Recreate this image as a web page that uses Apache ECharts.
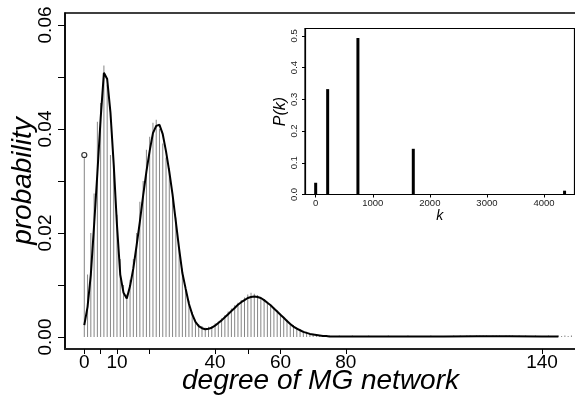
<!DOCTYPE html>
<html>
<head>
<meta charset="utf-8">
<script src="https://cdn.jsdelivr.net/npm/echarts@6/dist/echarts.min.js"></script>
<style>html,body{margin:0;padding:0;background:#fff}#c{width:575px;height:398px}</style>
</head>
<body>
<div id="c"></div>
<script>
// ---- main chart data ----
const barDegrees = [];
for (let d = 0; d <= 149; d++) barDegrees.push(d);
const barValues = [
  0.0350, 0.0120, 0.0200, 0.0276, 0.0414, 0.0450, 0.0522, 0.0485, 0.0350, 0.0330,
  0.0235, 0.0150, 0.0100, 0.0082, 0.0110, 0.0150, 0.0200, 0.0260, 0.0300, 0.0360,
  0.0385, 0.0412, 0.0418, 0.0400, 0.0372, 0.0345, 0.0325, 0.0265, 0.0230, 0.0170,
  0.0132, 0.0092, 0.0070, 0.0048, 0.0033, 0.0025, 0.0021, 0.0018, 0.0020, 0.0021,
  0.0026, 0.0030, 0.0036, 0.0042, 0.0049, 0.0055, 0.0061, 0.0066, 0.0071, 0.0076,
  0.0082, 0.0085, 0.0083, 0.0081, 0.0076, 0.0073, 0.0068, 0.0062, 0.0057, 0.0051,
  0.0045, 0.0039, 0.0033, 0.0027, 0.0023, 0.0019, 0.0015, 0.0012, 0.0010, 0.0008,
  0.0006, 0.0005, 0.0004, 0.0004, 0.0003, 0.0003, 0.0002, 0.0002, 0.0003, 0.0002,
  0.0002, 0.0002, 0.0003, 0.0002, 0.0002, 0.0002, 0.0002, 0.0003, 0.0002, 0.0002,
  0.0002, 0.0002, 0.0002, 0.0003, 0.0002, 0.0002, 0.0002, 0.0002, 0.0002, 0.0003,
  0.0002, 0.0002, 0.0002, 0.0002, 0.0002, 0.0002, 0.0003, 0.0002, 0.0002, 0.0002,
  0.0002, 0.0002, 0.0002, 0.0003, 0.0002, 0.0003, 0.0002, 0.0003, 0.0003, 0.0002,
  0.0003, 0.0003, 0.0003, 0.0003, 0.0002, 0.0003, 0.0003, 0.0003, 0.0002, 0.0003,
  0.0003, 0.0003, 0.0002, 0.0003, 0.0002, 0.0003, 0.0002, 0.0002, 0.0003, 0.0002,
  0.0002, 0.0002, 0.0003, 0.0002, 0.0002, 0.0003, 0.0002, 0.0003, 0.0002, 0.0003
];
const curveX = [0,1,2,3,4,5,6,7,8,9,10,11,12,13,14,15,16,17,18,19,20,21,22,23,24,25,26,27,28,29,
  30,31,32,33,34,35,36,37,38,39,40,41,42,43,44,45,46,47,48,49,50,51,52,53,54,55,56,57,58,59,
  60,61,62,63,64,65,66,67,68,69,70,71,72,73,74,75,80,90,100,110,120,130,140,145];
const curveY = [0.0023,0.0058,0.0120,0.0215,0.0315,0.0420,0.0508,0.0496,0.0432,0.0332,
  0.0215,0.0120,0.0085,0.0074,0.0098,0.0132,0.0176,0.0222,0.0272,0.0318,
  0.0358,0.0392,0.0406,0.0408,0.0390,0.0357,0.0318,0.0274,0.0222,0.0170,
  0.0123,0.0093,0.0064,0.0044,0.0029,0.0021,0.0017,0.0015,0.0016,0.0018,
  0.0022,0.0027,0.0032,0.0038,0.0044,0.0050,0.0056,0.0062,0.0067,0.0071,
  0.0075,0.0077,0.0078,0.0077,0.0075,0.0071,0.0066,0.0061,0.0055,0.0049,
  0.0043,0.0037,0.0031,0.0025,0.0020,0.0016,0.0013,0.0010,0.0008,0.0006,
  0.0005,0.0004,0.0003,0.0002,0.0002,0.0001,0.0001,0.0001,0.0001,0.0001,0.00015,0.00015,0.0001,0.0001];
const zeroPoint = [[0, 0.035]];
const xTickValues = [0, 5, 10, 20, 40, 50, 60, 80, 140];
const xLabelValues = [0, 10, 40, 60, 80, 140];
const yTickValues = [0, 0.01, 0.02, 0.03, 0.04, 0.05, 0.06];
const yLabelValues = [0, 0.02, 0.04, 0.06];

// ---- inset data ----
const insetK = [0, 210, 740, 1710, 4360];
const insetP = [0.037, 0.332, 0.493, 0.144, 0.012];
const insetXTicks = [0, 1000, 2000, 3000, 4000];
const insetYTicks = [0, 0.1, 0.2, 0.3, 0.4, 0.5];

const FONT = 'Liberation Sans, Arial, sans-serif';
const chart = echarts.init(document.getElementById('c'), null, {renderer: 'canvas'});
chart.setOption({
  animation: false,
  backgroundColor: '#fff',
  textStyle: {fontFamily: FONT},
  grid: [
    {left: 65, top: 13, width: 511, height: 336, show: true, borderColor: '#000', borderWidth: 1.5,
      containLabel: false, outerBoundsMode: 'none'},
    {left: 305, top: 28.5, width: 269.5, height: 166, show: true, borderColor: '#000', borderWidth: 1.2,
      backgroundColor: '#fff', containLabel: false, outerBoundsMode: 'none'}
  ],
  xAxis: [
    {
      type: 'value', gridIndex: 0, min: -5.9, max: 150.4,
      splitLine: {show: false},
      axisLine: {show: true, onZero: false, lineStyle: {color: '#222', width: 2}},
      axisTick: {show: true, length: 5, customValues: xTickValues, lineStyle: {color: '#000', width: 1}},
      axisLabel: {customValues: xLabelValues, fontSize: 19, color: '#000', margin: 4, fontFamily: FONT,
        formatter: v => String(Math.round(v))},
      name: 'degree of MG network', nameLocation: 'middle', nameGap: 18, nameMoveOverlap: false,
      nameTextStyle: {fontSize: 28, fontStyle: 'italic', color: '#000', fontFamily: FONT}
    },
    {
      type: 'value', gridIndex: 1, min: -187, max: 4534,
      splitLine: {show: false},
      axisLine: {show: true, onZero: false, lineStyle: {color: '#000', width: 1.2}},
      axisTick: {show: true, length: 3, customValues: insetXTicks, lineStyle: {color: '#000', width: 1}},
      axisLabel: {customValues: insetXTicks, fontSize: 9.5, color: '#222', margin: 4, fontFamily: FONT,
        formatter: v => String(Math.round(v))},
      name: 'k', nameLocation: 'middle', nameGap: 13,
      nameTextStyle: {fontSize: 14, fontStyle: 'italic', color: '#000', fontFamily: FONT}
    }
  ],
  yAxis: [
    {
      type: 'value', gridIndex: 0, min: -0.0023, max: 0.0623,
      splitLine: {show: false},
      axisLine: {show: true, onZero: false, lineStyle: {color: '#000', width: 1.5}},
      axisTick: {show: true, length: 7, customValues: yTickValues, lineStyle: {color: '#000', width: 1}},
      axisLabel: {customValues: yLabelValues, rotate: 90, fontSize: 19, color: '#000', margin: 10,
        fontFamily: FONT, formatter: v => Number(v).toFixed(2)},
      name: 'probability', nameLocation: 'middle', nameGap: 28, nameMoveOverlap: false,
      nameTextStyle: {fontSize: 28, fontStyle: 'italic', color: '#000', fontFamily: FONT}
    },
    {
      type: 'value', gridIndex: 1, min: 0, max: 0.523,
      splitLine: {show: false},
      axisLine: {show: true, onZero: false, lineStyle: {color: '#000', width: 1.2}},
      axisTick: {show: true, length: 3, customValues: insetYTicks, lineStyle: {color: '#000', width: 1}},
      axisLabel: {customValues: insetYTicks, rotate: 90, fontSize: 9.5, color: '#222', margin: 6,
        fontFamily: FONT, formatter: v => Number(v).toFixed(1)},
      name: 'P(k)', nameLocation: 'middle', nameGap: 16,
      nameTextStyle: {fontSize: 16, fontStyle: 'italic', color: '#000', fontFamily: FONT}
    }
  ],
  series: [
    {
      type: 'bar', xAxisIndex: 0, yAxisIndex: 0, barWidth: 1,
      data: barDegrees.map((d, i) => [d, barValues[i]]),
      itemStyle: {color: '#858585'}, z: 2
    },
    {
      type: 'line', xAxisIndex: 0, yAxisIndex: 0, symbol: 'none', smooth: false,
      data: curveX.map((x, i) => [x, curveY[i]]),
      lineStyle: {color: '#000', width: 2}, z: 3
    },
    {
      type: 'scatter', xAxisIndex: 0, yAxisIndex: 0, symbol: 'circle', symbolSize: 5,
      data: zeroPoint,
      itemStyle: {color: '#fff', borderColor: '#000', borderWidth: 1.2}, z: 4
    },
    {
      type: 'bar', xAxisIndex: 1, yAxisIndex: 1, barWidth: 3,
      data: insetK.map((k, i) => [k, insetP[i]]),
      itemStyle: {color: '#000'}, z: 5
    }
  ]
});
</script>
</body>
</html>
